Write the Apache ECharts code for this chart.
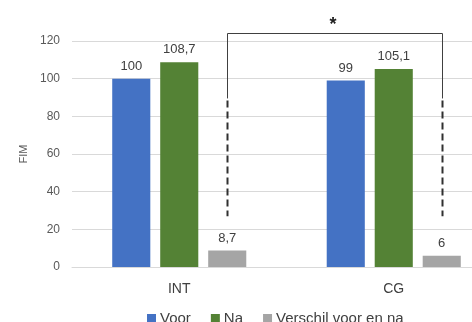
<!DOCTYPE html>
<html>
<head>
<meta charset="utf-8">
<script src="https://cdn.jsdelivr.net/npm/echarts@6/dist/echarts.min.js"></script>
<style>
html,body{margin:0;padding:0;background:#fff;}
#chart{width:472px;height:322px;}
</style>
</head>
<body>
<div id="chart"></div>
<script>
const categories = ['INT', 'CG'];
const voor = [100, 99];
const na = [108.7, 105.1];
const verschil = [8.7, 6];
const seriesNames = ['Voor', 'Na', 'Verschil voor en na'];
const yAxisName = 'FIM';
// bracket: from category, to category, top value, solid end value, dashed end value
const bracket = [[0, 1, 124.2, 89.5, 27]];
const bracketLabel = '*';

const FONT = '"Liberation Sans", Arial, sans-serif';
const CAT_GAP = 0.375, BAR_GAP = 0.26;

const chart = echarts.init(document.getElementById('chart'), null, {renderer: 'canvas'});
const fmt = p => String(p.value).replace('.', ',');
const lbl = {show: true, position: 'top', distance: 6, color: '#404040', fontSize: 13, fontFamily: FONT, formatter: fmt};

chart.setOption({
  animation: false,
  textStyle: {fontFamily: FONT},
  grid: {left: 72, top: 41, bottom: 55, width: 429, containLabel: false, outerBoundsMode: 'none'},
  legend: {
    data: seriesNames,
    left: 142, top: 306,
    itemWidth: 9, itemHeight: 9, itemGap: 20,
    icon: 'rect',
    textStyle: {color: '#404040', fontSize: 15, fontFamily: FONT, padding: [0, 0, 0, -1]}
  },
  xAxis: {
    type: 'category', data: categories,
    axisLine: {lineStyle: {color: '#D9D9D9', width: 1}},
    axisTick: {show: false},
    axisLabel: {color: '#404040', fontSize: 14, margin: 15, fontFamily: FONT}
  },
  yAxis: {
    type: 'value', min: 0, max: 120, interval: 20,
    name: yAxisName, nameLocation: 'middle', nameGap: 41, nameRotate: 90,
    nameTextStyle: {color: '#595959', fontSize: 11, fontFamily: FONT},
    axisLine: {show: false}, axisTick: {show: false},
    axisLabel: {color: '#595959', fontSize: 12, margin: 12, fontFamily: FONT},
    splitLine: {lineStyle: {color: '#D9D9D9', width: 1}}
  },
  series: [
    {name: seriesNames[0], type: 'bar', data: voor, itemStyle: {color: '#4472C4'}, barGap: (BAR_GAP*100)+'%', barCategoryGap: (CAT_GAP*100)+'%', label: lbl},
    {name: seriesNames[1], type: 'bar', data: na, itemStyle: {color: '#548235'}, label: lbl},
    {name: seriesNames[2], type: 'bar', data: verschil, itemStyle: {color: '#A5A5A5'}, label: lbl},
    {
      type: 'custom', silent: true, z: 10, clip: false,
      data: bracket,
      encode: {x: [0, 1], y: [2, 3, 4]},
      renderItem: function (params, api) {
        const band = api.size([1, 0])[0];
        const barW = band * (1 - CAT_GAP) / (3 + 2 * BAR_GAP);
        const off = barW * (1 + BAR_GAP);
        const xl = Math.round(api.coord([api.value(0), 0])[0] + off) + 0.5;
        const xr = Math.round(api.coord([api.value(1), 0])[0] + off) + 0.5;
        const yTop = Math.round(api.coord([0, api.value(2)])[1]) + 0.5;
        const ySolid = api.coord([0, api.value(3)])[1];
        const yDash = api.coord([0, api.value(4)])[1];
        return {
          type: 'group',
          children: [
            {type: 'polyline', shape: {points: [[xl, ySolid], [xl, yTop], [xr, yTop], [xr, ySolid]]},
             style: {stroke: '#404040', lineWidth: 1, fill: null}},
            {type: 'line', shape: {x1: xl, y1: ySolid + 2, x2: xl, y2: yDash},
             style: {stroke: '#303030', lineWidth: 2, lineDash: [7, 4]}},
            {type: 'line', shape: {x1: xr, y1: ySolid + 2, x2: xr, y2: yDash},
             style: {stroke: '#303030', lineWidth: 2, lineDash: [7, 4]}},
            {type: 'text', x: (xl + xr) / 2 - 2, y: yTop + 1,
             style: {text: bracketLabel, fill: '#202020', font: 'bold 18px ' + FONT, align: 'center', verticalAlign: 'bottom'}}
          ]
        };
      }
    }
  ]
});
</script>
</body>
</html>
